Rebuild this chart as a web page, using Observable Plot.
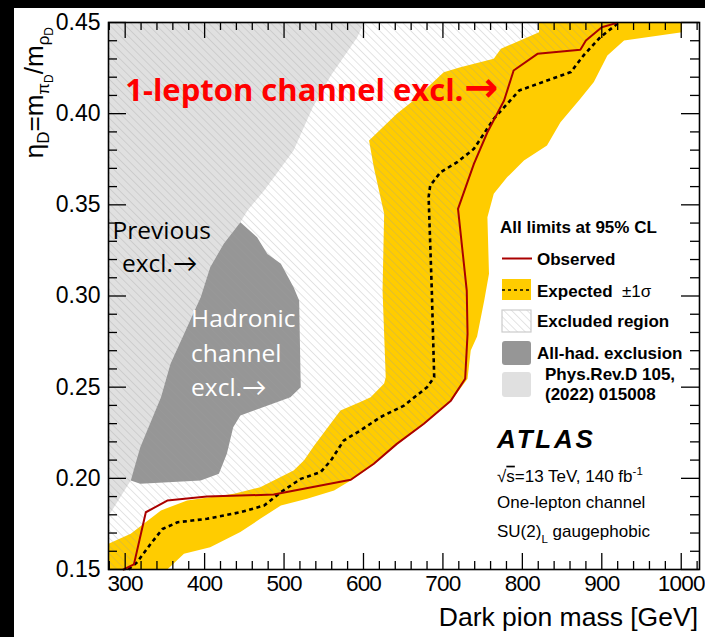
<!DOCTYPE html>
<html>
<head>
<meta charset="utf-8">
<script src="https://cdn.jsdelivr.net/npm/d3@7"></script>
<script src="https://cdn.jsdelivr.net/npm/@observablehq/plot@0.6"></script>
<style>
  html, body { margin: 0; padding: 0; background: #000; }
  #wrap { position: absolute; left: 14px; top: 8px; width: 691px; height: 629px; background: #fff; overflow: hidden; }
</style>
</head>
<body>
<div id="wrap"></div>
<script>
// ---- Axis ranges and tick labels ----
const massDomain = [279, 1023];
const etaDomain = [0.15, 0.45];
const massTicks = [300, 400, 500, 600, 700, 800, 900, 1000];
const etaTicks = [0.15, 0.20, 0.25, 0.30, 0.35, 0.40, 0.45];

// ---- Observed 95% CL limit contour (dark pion mass [GeV], eta_D) ----
const obsMass = [298, 311, 326, 353, 403, 487, 584, 613, 642, 676, 710, 728, 731, 730, 719, 739, 756, 777, 789, 819, 873, 880, 900, 919];
const obsEta  = [0.150, 0.1528, 0.1814, 0.1878, 0.1900, 0.1911, 0.1992, 0.2080, 0.2189, 0.2299, 0.2426, 0.2546, 0.2792, 0.3030, 0.3478, 0.3725, 0.3898, 0.4072, 0.4237, 0.4328, 0.4350, 0.4401, 0.4474, 0.4498];

// ---- Expected limit contour ----
const expMass = [304, 315, 332, 347, 366, 403, 445, 475, 496, 521, 546, 559, 575, 596, 621, 651, 680, 689, 686, 682, 684, 697, 718, 739, 764, 796, 861, 877, 898, 917, 921];
const expEta  = [0.150, 0.1540, 0.1640, 0.1722, 0.1759, 0.1778, 0.1814, 0.1851, 0.1924, 0.1997, 0.2034, 0.2098, 0.2207, 0.2262, 0.2335, 0.2399, 0.2500, 0.2555, 0.3030, 0.3542, 0.3606, 0.3679, 0.3734, 0.3807, 0.3972, 0.4127, 0.4228, 0.4319, 0.4419, 0.4484, 0.450];

// ---- Expected +-1 sigma band outline ----
const bandMass = [279, 307, 345, 378, 437, 470, 512, 525, 538, 571, 596, 609, 626, 628, 624, 626, 613, 607, 642, 663, 701, 722, 764, 773, 821, 821,
                  1001, 1001, 928, 907, 890, 873, 848, 831, 802, 781, 764, 756, 758, 752, 743, 735, 731, 710, 676, 642, 613, 586, 563, 529, 496, 470, 445, 407, 374, 353, 279];
const bandEta  = [0.1641, 0.1696, 0.1824, 0.1878, 0.1915, 0.1951, 0.2043, 0.2098, 0.2180, 0.2372, 0.2418, 0.2445, 0.2520, 0.2555, 0.3030, 0.3451, 0.3706, 0.3853, 0.3999, 0.4072, 0.4227, 0.4255, 0.4301, 0.4356, 0.4447, 0.450,
                  0.450, 0.4447, 0.4401, 0.4319, 0.4173, 0.4082, 0.3953, 0.3825, 0.3743, 0.3652, 0.3561, 0.3432, 0.3122, 0.2975, 0.2778, 0.2701, 0.2546, 0.2423, 0.2295, 0.2186, 0.2076, 0.1994, 0.1933, 0.1888, 0.1851, 0.1778, 0.1705, 0.1622, 0.1586, 0.150, 0.150];

// ---- All-hadronic channel exclusion outline ----
const hadMass = [445, 466, 479, 496, 512, 519, 521, 508, 445, 436, 428, 418, 395, 319, 307, 319, 345, 357, 376, 395, 407, 424];
const hadEta  = [0.3405, 0.3322, 0.3231, 0.3177, 0.3048, 0.2975, 0.2500, 0.2445, 0.2345, 0.2280, 0.2135, 0.2025, 0.1988, 0.1970, 0.1988, 0.2171, 0.2445, 0.2628, 0.2811, 0.2993, 0.3158, 0.3286];

// ---- Previous exclusion (Phys.Rev.D 105, 015008) outline ----
const prevMass = [279, 601, 592, 559, 536, 512, 475, 454, 445, 424, 407, 395, 376, 357, 345, 323, 307, 282, 279];
const prevEta  = [0.450, 0.450, 0.4418, 0.4209, 0.4034, 0.3798, 0.3579, 0.3469, 0.3405, 0.3286, 0.3158, 0.2993, 0.2811, 0.2628, 0.2445, 0.2207, 0.1988, 0.1814, 0.1796];

// ---- In-plot annotations ----
const noteText = ["1-lepton channel excl.", "\u2192", "Previous", "excl.\u2192", "Hadronic", "channel", "excl.\u2192"];
const noteMass = [300, 727, 284, 296, 383, 383, 383];
const noteEta  = [0.4072, 0.4072, 0.3314, 0.3130, 0.2829, 0.2637, 0.2454];

// ---- Colours ----
const cLight = "#e0e0e0", cDark = "#969696", cBand = "#ffcc00", cObs = "#aa0000";

const W = 691, H = 629, mL = 94, mT = 14, mR = 6, mB = 68;
const plotW = W - mL - mR, plotH = H - mT - mB;

const pts = (xs, ys) => xs.map((x, i) => ({x, y: ys[i]}));

// excluded (hatched) region: everything on the low-mass side of the observed contour
const hatchPts = [{x: massDomain[0], y: etaDomain[1]}]
  .concat(pts(obsMass, obsEta).reverse())
  .concat([{x: massDomain[0], y: etaDomain[0]}]);

const notes = noteText.map((t, i) => ({t, x: noteMass[i], y: noteEta[i], i}));

const xMinor = d3.range(280, 1021, 20).filter(v => v % 100 !== 0);
const yMinor = d3.range(15, 46).map(v => v / 100).filter(v => Math.round(v * 100) % 5 !== 0);

const slideFont = "'Open Sans', Lato, sans-serif";
const sans = "'Liberation Sans', Arial, sans-serif";

const chart = Plot.plot({
  width: W, height: H,
  marginLeft: mL, marginTop: mT, marginRight: mR, marginBottom: mB,
  x: {domain: massDomain},
  y: {domain: etaDomain},
  style: {fontFamily: sans, background: "white", color: "black"},
  marks: [
    Plot.line(pts(prevMass, prevEta), {x: "x", y: "y", fill: cLight, stroke: "none"}),
    Plot.line(pts(hadMass, hadEta), {x: "x", y: "y", fill: cDark, stroke: "none"}),
    Plot.line(pts(bandMass, bandEta), {x: "x", y: "y", fill: cBand, stroke: "none"}),
    Plot.line(hatchPts, {x: "x", y: "y", fill: "url(#hatch)", stroke: "none"}),
    Plot.line(pts(expMass, expEta), {x: "x", y: "y", stroke: "#000", strokeWidth: 2.6, strokeDasharray: "4,3.5", strokeLinecap: "butt"}),
    Plot.line(pts(obsMass, obsEta), {x: "x", y: "y", stroke: cObs, strokeWidth: 2}),
    // annotations
    Plot.text(notes.filter(d => d.i === 0), {x: "x", y: "y", text: "t", textAnchor: "start", lineAnchor: "bottom",
      fontSize: 31, fontWeight: "bold", fill: "#ff0000", fontFamily: slideFont}),
    Plot.text(notes.filter(d => d.i === 1), {x: "x", y: "y", text: "t", textAnchor: "start", lineAnchor: "bottom",
      fontSize: 41, fontWeight: "bold", fill: "#ff0000", fontFamily: "'DejaVu Sans', sans-serif"}),
    Plot.text(notes.filter(d => d.i === 2 || d.i === 3), {x: "x", y: "y", text: "t", textAnchor: "start", lineAnchor: "bottom",
      fontSize: 24.5, fill: "#000", fontFamily: slideFont}),
    Plot.text(notes.filter(d => d.i >= 4), {x: "x", y: "y", text: "t", textAnchor: "start", lineAnchor: "bottom",
      fontSize: 24.5, fill: "#fff", fontFamily: slideFont}),
    // inward ticks on all four sides
    Plot.ruleX(massTicks, {insetTop: plotH - 16, stroke: "#000", strokeWidth: 1.3}),
    Plot.ruleX(xMinor, {insetTop: plotH - 8, stroke: "#000", strokeWidth: 1.3}),
    Plot.ruleX(massTicks, {insetBottom: plotH - 16, stroke: "#000", strokeWidth: 1.3}),
    Plot.ruleX(xMinor, {insetBottom: plotH - 8, stroke: "#000", strokeWidth: 1.3}),
    Plot.ruleY(etaTicks, {insetRight: plotW - 18, stroke: "#000", strokeWidth: 1.3}),
    Plot.ruleY(yMinor, {insetRight: plotW - 9, stroke: "#000", strokeWidth: 1.3}),
    Plot.ruleY(etaTicks, {insetLeft: plotW - 18, stroke: "#000", strokeWidth: 1.3}),
    Plot.ruleY(yMinor, {insetLeft: plotW - 9, stroke: "#000", strokeWidth: 1.3}),
    Plot.frame({stroke: "#000", strokeWidth: 1.6}),
    Plot.axisX(massTicks, {anchor: "bottom", tickSize: 0, tickPadding: 6, fontSize: 22.5, tickFormat: d3.format("d"), label: null}),
    Plot.axisY(etaTicks, {anchor: "left", tickSize: 0, tickPadding: 8, fontSize: 23, tickFormat: d3.format(".2f"), label: null})
  ]
});

document.getElementById("wrap").appendChild(chart);

const svg = d3.select(chart);
// slightly tighter digits on the mass axis so the last label stays inside
svg.selectAll('[aria-label="x-axis tick label"] text').attr("letter-spacing", -0.8);

// hatch pattern for the excluded region
const defs = svg.insert("defs", ":first-child");
defs.append("pattern")
  .attr("id", "hatch").attr("patternUnits", "userSpaceOnUse")
  .attr("width", 5.5).attr("height", 5.5)
  .attr("patternTransform", "rotate(-45)")
  .append("line").attr("x1", 0).attr("y1", 0).attr("x2", 0).attr("y2", 5.5)
  .attr("stroke", "#9a9a9a").attr("stroke-opacity", 0.6).attr("stroke-width", 0.9);

// x-axis title
svg.append("text").attr("x", 684).attr("y", 618).attr("text-anchor", "end")
  .attr("font-family", sans).attr("font-size", 26.5).attr("fill", "#000").text("Dark pion mass [GeV]");

// y-axis title with sub- and sub-subscripts
const yt = svg.append("text")
  .attr("transform", "translate(29,19) rotate(-90)")
  .attr("text-anchor", "end").attr("font-family", sans).attr("font-size", 26).attr("fill", "#000");
yt.append("tspan").text("η");
yt.append("tspan").attr("font-size", 17).attr("dy", 6).text("D");
yt.append("tspan").attr("font-size", 26).attr("dy", -6).text("=m");
yt.append("tspan").attr("font-size", 17).attr("dy", 6).text("π");
yt.append("tspan").attr("font-size", 12).attr("dy", 4).text("D");
yt.append("tspan").attr("font-size", 26).attr("dy", -10).text("/m");
yt.append("tspan").attr("font-size", 17).attr("dy", 6).text("ρ");
yt.append("tspan").attr("font-size", 12).attr("dy", 4).text("D");

// legend
const lg = svg.append("g").attr("font-family", sans).attr("font-weight", "bold").attr("font-size", 17)
  .attr("fill", "#000").attr("text-anchor", "start");
lg.append("text").attr("x", 486).attr("y", 225).text("All limits at 95% CL");
lg.append("line").attr("x1", 488).attr("x2", 518).attr("y1", 250.5).attr("y2", 250.5).attr("stroke", cObs).attr("stroke-width", 2);
lg.append("text").attr("x", 523).attr("y", 256.5).text("Observed");
lg.append("rect").attr("x", 488).attr("y", 271).attr("width", 29).attr("height", 21).attr("fill", cBand);
lg.append("line").attr("x1", 488).attr("x2", 517).attr("y1", 282).attr("y2", 282).attr("stroke", "#000").attr("stroke-width", 1.5).attr("stroke-dasharray", "3,3");
const ex = lg.append("text").attr("x", 523).attr("y", 289);
ex.append("tspan").text("Expected ");
ex.append("tspan").attr("font-weight", "normal").text(" ±1σ");
lg.append("rect").attr("x", 488).attr("y", 302).attr("width", 29).attr("height", 22).attr("fill", "url(#hatch)").attr("stroke", "#cccccc").attr("stroke-width", 1.2);
lg.append("text").attr("x", 523).attr("y", 319).text("Excluded region");
lg.append("rect").attr("x", 488).attr("y", 333).attr("width", 29).attr("height", 24).attr("rx", 3).attr("fill", cDark);
lg.append("text").attr("x", 523).attr("y", 351).text("All-had. exclusion");
lg.append("rect").attr("x", 488).attr("y", 364).attr("width", 29).attr("height", 25).attr("rx", 3).attr("fill", cLight);
lg.append("text").attr("x", 531).attr("y", 372).text("Phys.Rev.D 105,");
lg.append("text").attr("x", 531).attr("y", 392).text("(2022) 015008");

// experiment label
const info = svg.append("g").attr("font-family", sans).attr("fill", "#000").attr("text-anchor", "start");
info.append("text").attr("x", 483).attr("y", 440).attr("font-size", 26).attr("font-weight", "bold").attr("font-style", "italic")
  .attr("letter-spacing", 2.8).text("ATLAS");
const l1 = info.append("text").attr("x", 483).attr("y", 473.7).attr("font-size", 17);
l1.append("tspan").text("√");
l1.append("tspan").attr("text-decoration", "overline").text("s");
l1.append("tspan").text("=13 TeV, 140 fb");
l1.append("tspan").attr("font-size", 11.5).attr("dy", -7).text("-1");
info.append("text").attr("x", 483).attr("y", 500.3).attr("font-size", 17).text("One-lepton channel");
const l3 = info.append("text").attr("x", 483).attr("y", 528.7).attr("font-size", 17);
l3.append("tspan").text("SU(2)");
l3.append("tspan").attr("font-size", 11.5).attr("dy", 6).text("L");
l3.append("tspan").attr("dy", -6).text(" gaugephobic");
</script>
</body>
</html>
